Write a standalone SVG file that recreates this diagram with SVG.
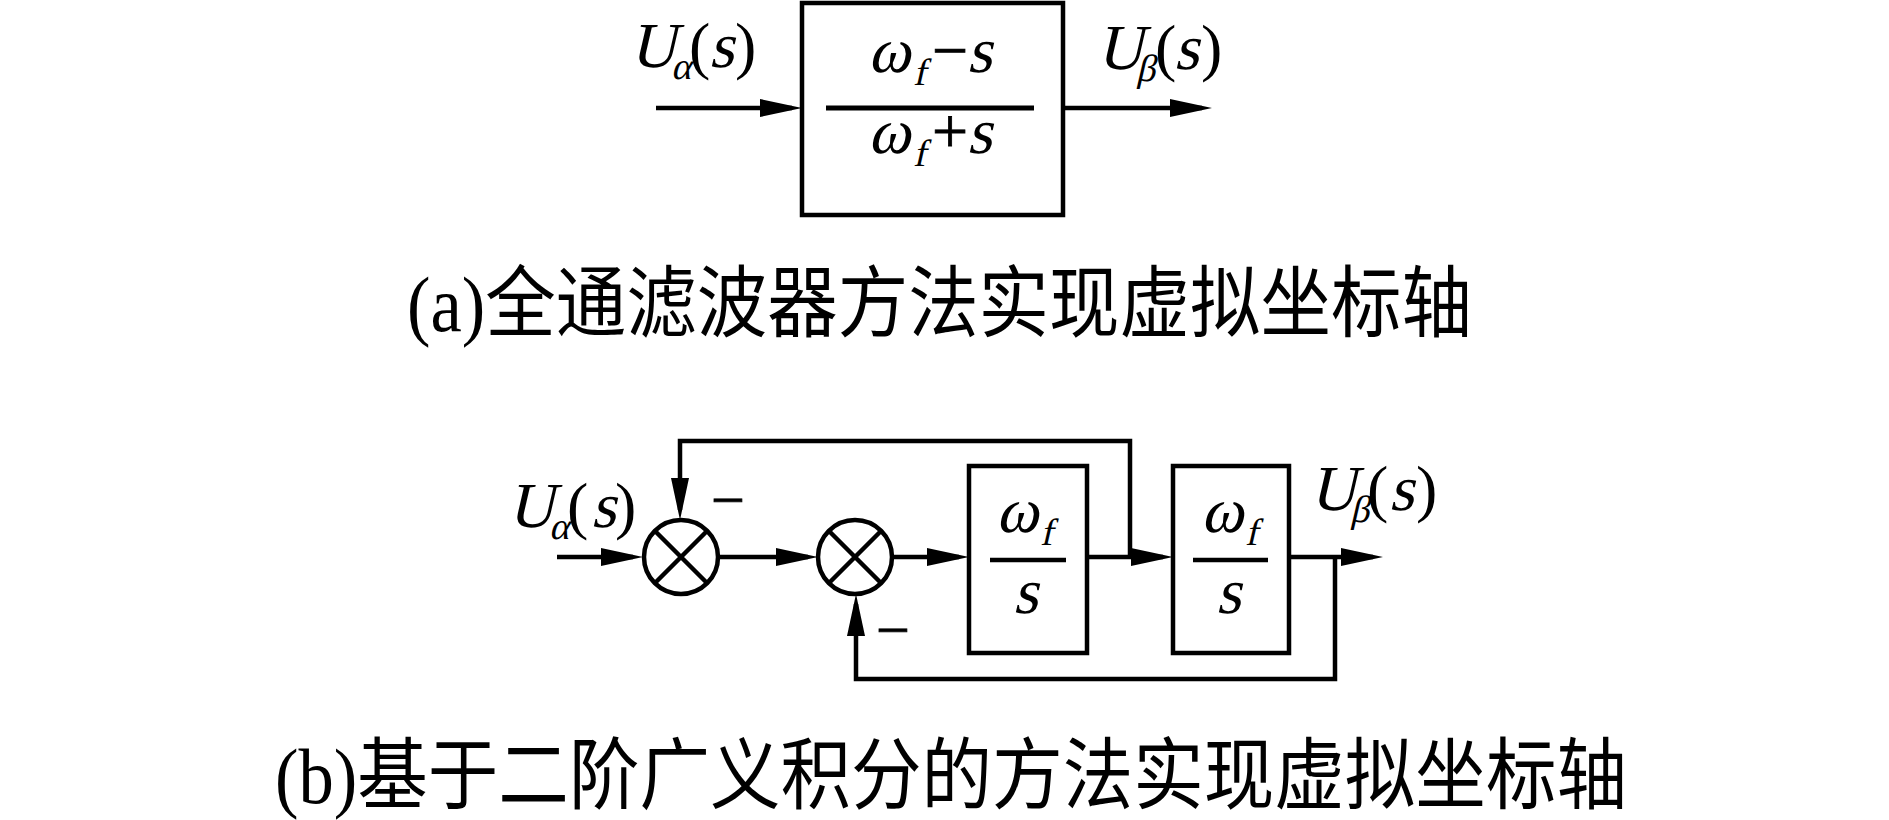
<svg xmlns="http://www.w3.org/2000/svg" width="1889" height="820" viewBox="0 0 1889 820">
<style>
.ln{fill:none;stroke:#000;stroke-width:4.5}
.bx{fill:none;stroke:#000;stroke-width:4.5}
.t{font-family:"Liberation Serif","Times New Roman",serif;fill:#000;font-style:normal}
.big{font-size:64px}
.sub{font-size:38px}
.cap{font-family:"Liberation Serif","Noto Sans CJK SC",serif;font-size:78px;fill:#000}
</style>
<defs>
<marker id="ah" markerUnits="userSpaceOnUse" markerWidth="42" markerHeight="18" refX="32" refY="9" orient="auto">
<path d="M0,0 L42,9 L0,18 Z" fill="#000"/>
</marker>
</defs>

<g id="connectors">
<line class="ln" x1="656" y1="108" x2="792" y2="108" marker-end="url(#ah)"/>
<line class="ln" x1="1063" y1="108" x2="1202" y2="108" marker-end="url(#ah)"/>
<line class="ln" x1="557" y1="557" x2="633" y2="557" marker-end="url(#ah)"/>
<line class="ln" x1="718" y1="557" x2="808" y2="557" marker-end="url(#ah)"/>
<line class="ln" x1="892" y1="557" x2="959" y2="557" marker-end="url(#ah)"/>
<line class="ln" x1="1087" y1="557" x2="1163" y2="557" marker-end="url(#ah)"/>
<line class="ln" x1="1289" y1="557" x2="1373" y2="557" marker-end="url(#ah)"/>
<polyline class="ln" points="1130,559 1130,441 680,441 680,510" marker-end="url(#ah)"/>
<polyline class="ln" points="1335,555 1335,679 856,679 856,604" marker-end="url(#ah)"/>
</g>

<g id="allpass">
<rect class="bx" x="802" y="3" width="261" height="212"/>
<line x1="826" y1="108" x2="1034" y2="108" stroke="#000" stroke-width="5"/>
<text class="t big" transform="translate(868,72) skewX(-13)">ω</text>
<text class="t sub" transform="translate(913,85) skewX(-13)">f</text>
<text class="t big" x="932" y="72" stroke="#000" stroke-width="0.8">−</text>
<text class="t big" transform="translate(967,72) skewX(-13)">s</text>
<text class="t big" transform="translate(868,153) skewX(-13)">ω</text>
<text class="t sub" transform="translate(913,166) skewX(-13)">f</text>
<text class="t big" x="932" y="153" stroke="#000" stroke-width="0.8">+</text>
<text class="t big" transform="translate(967,153) skewX(-13)">s</text>
</g>

<g id="label-ua-top">
<text class="t big" transform="translate(630,67) skewX(-13)">U</text>
<text class="t sub" transform="translate(671,79) skewX(-13)">α</text>
<text class="t big" x="689" y="67">(</text>
<text class="t big" transform="translate(709,67) skewX(-13)">s</text>
<text class="t big" x="735" y="67">)</text>
</g>
<g id="label-ub-top">
<text class="t big" transform="translate(1097,69) skewX(-13)">U</text>
<text class="t sub" transform="translate(1136,81) skewX(-13)">β</text>
<text class="t big" x="1155" y="69">(</text>
<text class="t big" transform="translate(1174,69) skewX(-13)">s</text>
<text class="t big" x="1201" y="69">)</text>
</g>

<g id="caption-a">
<text class="cap" x="407" y="331" textLength="1065" lengthAdjust="spacingAndGlyphs">(a)全通滤波器方法实现虚拟坐标轴</text>
</g>

<g id="label-ua-bottom">
<text class="t big" transform="translate(508,527) skewX(-13)">U</text>
<text class="t sub" transform="translate(549,539) skewX(-13)">α</text>
<text class="t big" x="567" y="527">(</text>
<text class="t big" transform="translate(591,527) skewX(-13)">s</text>
<text class="t big" x="615" y="527">)</text>
</g>

<g id="sum1">
<circle cx="681" cy="557" r="37" fill="#fff" stroke="#000" stroke-width="4.5"/>
<path d="M655,531 L707,583 M707,531 L655,583" stroke="#000" stroke-width="4.5"/>
</g>
<g id="minus1"><text class="t" x="711" y="520" font-size="60" stroke="#000" stroke-width="0.8">−</text></g>

<g id="sum2">
<circle cx="855" cy="557" r="37" fill="#fff" stroke="#000" stroke-width="4.5"/>
<path d="M829,531 L881,583 M881,531 L829,583" stroke="#000" stroke-width="4.5"/>
</g>
<g id="minus2"><text class="t" x="876" y="650" font-size="60" stroke="#000" stroke-width="0.8">−</text></g>

<g id="integrator1">
<rect class="bx" x="969" y="466" width="118" height="187"/>
<line x1="990" y1="560" x2="1066" y2="560" stroke="#000" stroke-width="4.5"/>
<text class="t big" transform="translate(996,532) skewX(-13)">ω</text>
<text class="t sub" transform="translate(1040,545) skewX(-13)">f</text>
<text class="t big" transform="translate(1013,613) skewX(-13)">s</text>
</g>

<g id="integrator2">
<rect class="bx" x="1173" y="466" width="116" height="187"/>
<line x1="1193" y1="560" x2="1268" y2="560" stroke="#000" stroke-width="4.5"/>
<text class="t big" transform="translate(1201,532) skewX(-13)">ω</text>
<text class="t sub" transform="translate(1245,545) skewX(-13)">f</text>
<text class="t big" transform="translate(1216,613) skewX(-13)">s</text>
</g>

<g id="label-ub-bottom">
<text class="t big" transform="translate(1310,510) skewX(-13)">U</text>
<text class="t sub" transform="translate(1350,522) skewX(-13)">β</text>
<text class="t big" x="1367" y="510">(</text>
<text class="t big" transform="translate(1389,510) skewX(-13)">s</text>
<text class="t big" x="1416" y="510">)</text>
</g>

<g id="caption-b">
<text class="cap" x="275" y="803" textLength="1352" lengthAdjust="spacingAndGlyphs">(b)基于二阶广义积分的方法实现虚拟坐标轴</text>
</g>
</svg>
